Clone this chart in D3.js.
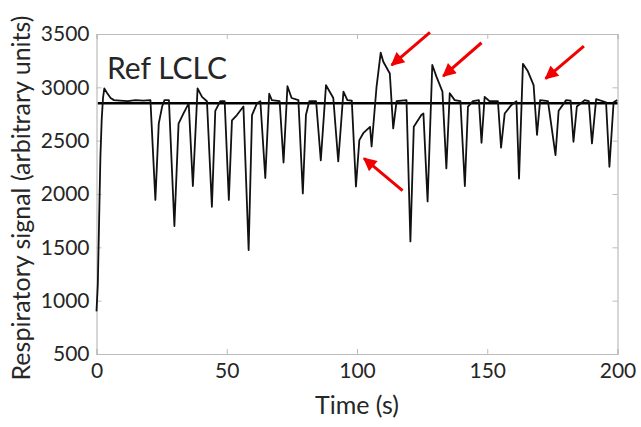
<!DOCTYPE html>
<html>
<head>
<meta charset="utf-8">
<script src="https://cdn.jsdelivr.net/npm/d3@7"></script>
<style>
  body { margin: 0; background: #fff; }
  text { font-family: Lato, "Open Sans", sans-serif; fill: #262626; }
</style>
</head>
<body>
<div id="container"></div>
<script>
/* CONSTANTS AND GLOBALS */
const width = 641,
  height = 427,
  margin = { top: 34, bottom: 73, left: 96.5, right: 23.5 };

// time (s) and respiratory signal
const timeS = [0, 0.5, 1.0, 1.5, 2.0, 2.5, 3.0, 4.0, 5.4, 6.7, 9, 12, 15, 18, 20.7,
  22.6, 23.9, 25.2, 26.1, 27.8, 29.9, 31.5, 33.5, 35.4, 37.0, 38.8, 40.5, 42.4,
  44.3, 45.6, 47.5, 49.2, 50.8, 52.0, 53.9, 56.4, 58.4, 59.7, 61.6, 62.9, 64.8,
  66.3, 67.3, 70.3, 71.8, 73.3, 74.9, 77.5, 79.2, 80.4, 81.7, 84.3, 86.1, 88.1,
  90.9, 92.8, 94.8, 96.3, 98.0, 99.6, 100.9, 102.4, 105.0, 105.6, 107.5, 109.1,
  110.1, 112.6, 113.9, 115.2, 119.0, 120.5, 121.8, 124.7, 125.5, 127.1, 128.9,
  130.5, 132.8, 134.3, 135.6, 137.5, 139.7, 141.4, 142.6, 144.5, 146.8, 147.8,
  149.0, 150.9, 154.1, 155.3, 156.7, 159.3, 161.2, 162.2, 163.7, 165.6, 167.8,
  169.1, 170.3, 173.3, 176.2, 177.4, 180.3, 182.0, 183.1, 184.4, 187.4, 189.0,
  190.2, 191.8, 195.6, 196.9, 198.5, 199.9];
const signal = [900, 1150, 1750, 2350, 2700, 2900, 2990, 2950, 2900, 2880, 2875, 2870, 2880, 2875, 2880,
  1945, 2660, 2820, 2880, 2880, 1700, 2660, 2760, 2850, 2075, 2990, 2910, 2870,
  1880, 2780, 2870, 2870, 1945, 2690, 2740, 2820, 1475, 2740, 2850, 2870, 2150,
  2940, 2880, 2870, 2295, 3010, 2900, 2880, 2005, 2740, 2870, 2870, 2315, 3020,
  2900, 2305, 2960, 2880, 2875, 2070, 2505, 2570, 2630, 2445, 3005, 3325,
  3240, 3130, 2615, 2870, 2880, 1555, 2630, 2740, 2755, 1930, 3210,
  3100, 2960, 2240, 2945, 2880, 2870, 2075, 2820, 2870, 2880, 2480,
  2910, 2870, 2870, 2435, 2755, 2835, 2870, 2145, 3220, 3150, 3020,
  2555, 2880, 2870, 2365, 2780, 2880, 2875, 2490, 2820, 2880, 2870,
  2475, 2890, 2860, 2255, 2860, 2880];

const refLevel = 2850; // horizontal reference line
const xTicks = [0, 50, 100, 150, 200];
const yTicks = [500, 1000, 1500, 2000, 2500, 3000, 3500];

// red arrows: tail (t, v) -> tip (t, v)
const arrowTail = [[128, 3516], [147.8, 3418], [187.1, 3387], [117.5, 2031]];
const arrowTip = [[113.3, 3209], [133.1, 3106], [172.4, 3082], [102.7, 2334]];

const data = timeS.map((t, i) => ({ t: t, v: signal[i] }));

/* SCALES */
const xScale = d3.scaleLinear()
  .domain([0, 200])
  .range([margin.left, width - margin.right]);

const yScale = d3.scaleLinear()
  .domain([500, 3500])
  .range([height - margin.bottom, margin.top]);

const svg = d3.select("#container")
  .append("svg")
  .attr("width", width)
  .attr("height", height);

/* AXES (matlab-ish box, ticks inward on all sides) */
const axisColor = "#bcbcbc";

const xAxis = d3.axisBottom(xScale).tickValues(xTicks).tickSize(-5).tickPadding(9)
  .tickFormat(d3.format("d"));
const yAxis = d3.axisLeft(yScale).tickValues(yTicks).tickSize(-5).tickPadding(7)
  .tickFormat(d3.format("d"));

svg.append("g")
  .attr("transform", `translate(0, ${height - margin.bottom})`)
  .call(xAxis);

svg.append("g")
  .attr("transform", `translate(${margin.left}, 0)`)
  .call(yAxis);

svg.append("g")
  .attr("transform", `translate(0, ${margin.top})`)
  .call(d3.axisTop(xScale).tickValues(xTicks).tickSize(-5).tickFormat(""));

svg.append("g")
  .attr("transform", `translate(${width - margin.right}, 0)`)
  .call(d3.axisRight(yScale).tickValues(yTicks).tickSize(-5).tickFormat(""));

svg.selectAll(".domain").attr("stroke", axisColor).attr("stroke-width", 1.2);
svg.selectAll(".tick line").attr("stroke", axisColor);
svg.selectAll(".tick text")
  .style("font-size", "21px")
  .attr("fill", "#262626");

// axis labels
svg.append("text")
  .attr("x", (xScale(0) + xScale(200)) / 2)
  .attr("y", 414)
  .attr("text-anchor", "middle")
  .style("font-size", "25px")
  .text("Time (s)");

svg.append("text")
  .attr("transform", `translate(30, ${(yScale(500) + yScale(3500)) / 2 + 4}) rotate(-90)`)
  .attr("text-anchor", "middle")
  .style("font-size", "25px")
  .text("Respiratory signal (arbitrary units)");

/* LINES */
svg.append("line")
  .attr("x1", xScale(0.5))
  .attr("x2", xScale(200))
  .attr("y1", yScale(refLevel))
  .attr("y2", yScale(refLevel))
  .attr("stroke", "black")
  .attr("stroke-width", 2.5);

const lineGen = d3.line()
  .x(d => xScale(d.t))
  .y(d => yScale(d.v));

svg.append("path")
  .datum(data)
  .attr("fill", "none")
  .attr("stroke", "#111")
  .attr("stroke-width", 1.8)
  .attr("stroke-linejoin", "round")
  .attr("d", lineGen);

svg.append("text")
  .attr("x", 107)
  .attr("y", 79)
  .style("font-size", "30px")
  .attr("fill", "black")
  .text("Ref LCLC");

/* ARROWS */
svg.append("defs").append("marker")
  .attr("id", "head")
  .attr("viewBox", "0 0 10 10")
  .attr("refX", 9)
  .attr("refY", 5)
  .attr("markerWidth", 5)
  .attr("markerHeight", 4.5)
  .attr("markerUnits", "strokeWidth")
  .attr("orient", "auto")
  .append("path")
  .attr("d", "M0,0 L10,5 L0,10 Z")
  .attr("fill", "#f20000");

svg.selectAll(".arrow")
  .data(arrowTail.map((a, i) => [a, arrowTip[i]]))
  .join("line")
  .attr("class", "arrow")
  .attr("x1", d => xScale(d[0][0]))
  .attr("y1", d => yScale(d[0][1]))
  .attr("x2", d => xScale(d[1][0]))
  .attr("y2", d => yScale(d[1][1]))
  .attr("stroke", "#f20000")
  .attr("stroke-width", 3)
  .attr("marker-end", "url(#head)");
</script>
</body>
</html>
